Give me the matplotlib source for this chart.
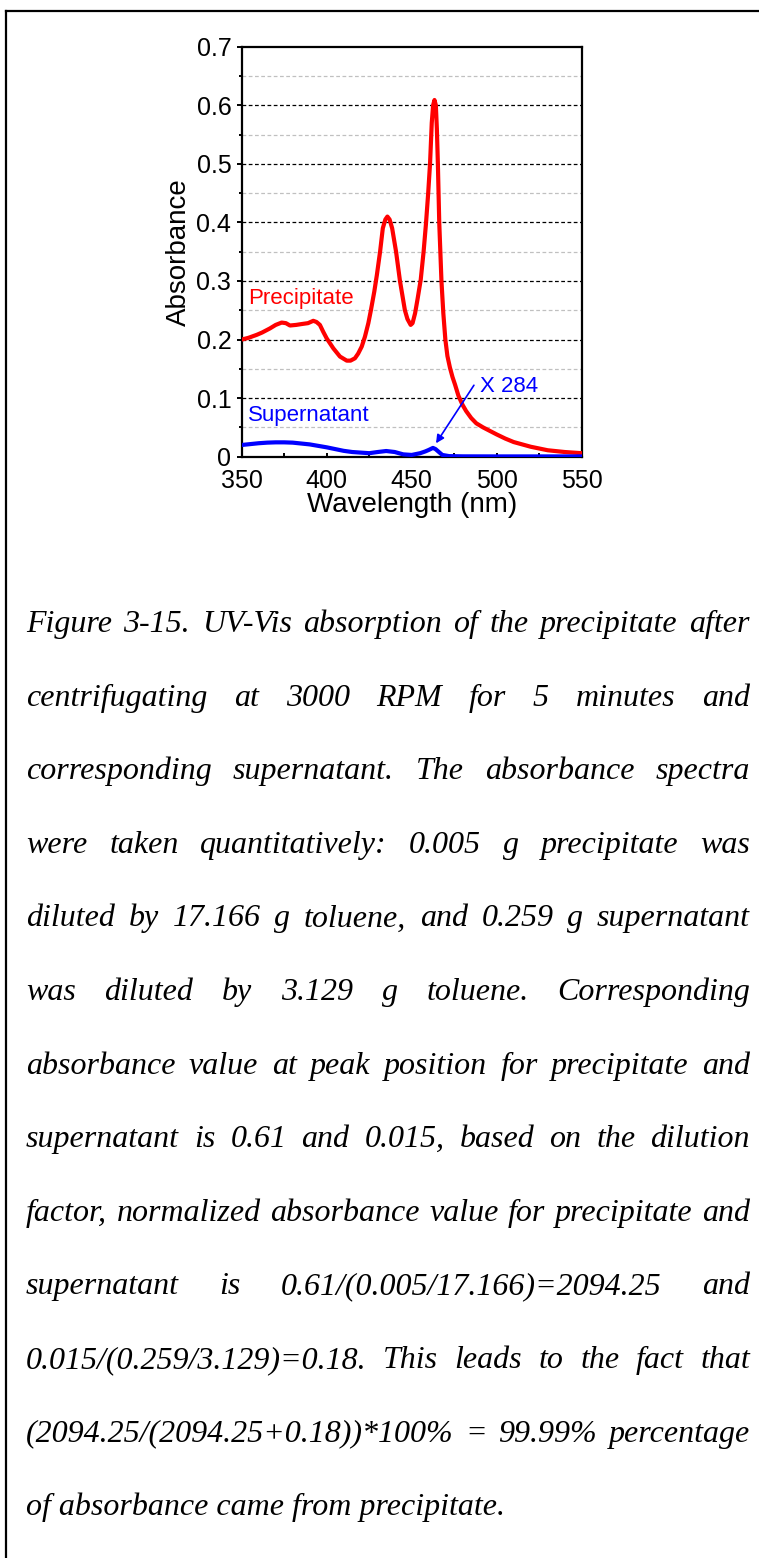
'''UV-Vis absorption of precipitate and supernatant, with figure caption'''
import numpy as np
import matplotlib
matplotlib.use('Agg')
import matplotlib.pyplot as plt
from matplotlib.lines import Line2D
from matplotlib.ticker import MultipleLocator
from matplotlib import rcParams
rcParams.update({'font.family': ['Liberation Sans', 'DejaVu Sans']})

# precipitate spectrum
wl_p = [350, 354, 358.8, 362, 366.6, 370, 373.5, 376, 378.4, 382, 385.3, 389, 392.1, 394,
        396, 398, 400, 403.9, 407.8, 411.8, 414, 416.6, 418.5, 420.6, 422.5, 424.5, 426,
        428, 429.5, 431.4, 433, 434.5, 435.7, 437, 438.5, 440.8, 443.1, 446, 447.5, 449.4,
        450.5, 452, 453.5, 455.3, 457, 458.4, 459.7, 460.8, 461.8, 462.6, 463.4, 464.2,
        464.8, 465.4, 466.2, 467.5, 468.6, 469.8, 471, 472.5, 474, 475.5, 477.5, 480, 482,
        485, 488, 492, 496, 500, 505, 510, 520, 530, 540, 550]
abs_p = [0.200, 0.203, 0.208, 0.212, 0.219, 0.225, 0.229, 0.228, 0.224, 0.225, 0.2265,
         0.228, 0.232, 0.230, 0.225, 0.213, 0.202, 0.185, 0.171, 0.164, 0.164, 0.168,
         0.176, 0.188, 0.205, 0.228, 0.250, 0.282, 0.310, 0.350, 0.390, 0.405, 0.410,
         0.405, 0.390, 0.350, 0.300, 0.250, 0.235, 0.225, 0.228, 0.245, 0.270, 0.302,
         0.350, 0.398, 0.450, 0.501, 0.570, 0.600, 0.609, 0.600, 0.560, 0.500, 0.400,
         0.300, 0.245, 0.200, 0.172, 0.152, 0.136, 0.123, 0.104, 0.088, 0.078, 0.066, 0.057,
         0.050, 0.044, 0.038, 0.031, 0.025, 0.017, 0.011, 0.008, 0.006]

# supernatant spectrum
wl_s = [350, 355, 360, 365, 370, 375, 380, 385, 390, 395, 400, 405, 410, 415, 420, 425,
        430, 435, 440, 445, 450, 455, 458, 460, 462.5, 464, 466, 468, 472, 480, 500, 520,
        550]
abs_s = [0.020, 0.0215, 0.023, 0.024, 0.0245, 0.0245, 0.024, 0.0225, 0.021, 0.0185,
         0.016, 0.013, 0.010, 0.008, 0.007, 0.006, 0.008, 0.0097, 0.008, 0.004, 0.003,
         0.006, 0.009, 0.0115, 0.015, 0.013, 0.008, 0.003, 0.001, 0.0006, 0.0005, 0.0005,
         0.0005]

caption = [
    'Figure 3-15. UV-Vis absorption of the precipitate after',
    'centrifugating at 3000 RPM for 5 minutes and',
    'corresponding supernatant. The absorbance spectra',
    'were taken quantitatively: 0.005 g precipitate was',
    'diluted by 17.166 g toluene, and 0.259 g supernatant',
    'was diluted by 3.129 g toluene. Corresponding',
    'absorbance value at peak position for precipitate and',
    'supernatant is 0.61 and 0.015, based on the dilution',
    'factor, normalized absorbance value for precipitate and',
    'supernatant is 0.61/(0.005/17.166)=2094.25 and',
    '0.015/(0.259/3.129)=0.18. This leads to the fact that',
    '(2094.25/(2094.25+0.18))*100% = 99.99% percentage',
    'of absorbance came from precipitate.',
]

W, H = 759, 1558
fig = plt.figure(figsize=(W / 100, H / 100), dpi=100)

# frame round the figure (only top and left visible)
fig.add_artist(Line2D([5.5 / W, 5.5 / W], [0, 1 - 10.5 / H], transform=fig.transFigure,
                      color='black', lw=1.6))
fig.add_artist(Line2D([5.5 / W, 1], [1 - 10.5 / H, 1 - 10.5 / H], transform=fig.transFigure,
                      color='black', lw=1.6))

ax = fig.add_axes([241.7 / W, 1 - 456.7 / H, 340 / W, 410 / H])
ax.plot(wl_p, abs_p, color='#ff0000', lw=3.0, solid_joinstyle='round',
        solid_capstyle='round', zorder=3)
ax.plot(wl_s, abs_s, color='#0000ff', lw=3.0, solid_joinstyle='round',
        solid_capstyle='round', zorder=3)

ax.set_xlim(350, 550)
ax.set_ylim(0, 0.7)
ax.xaxis.set_major_locator(MultipleLocator(50))
ax.xaxis.set_minor_locator(MultipleLocator(25))
ax.yaxis.set_minor_locator(MultipleLocator(0.05))
ax.set_yticks(np.arange(0, 0.71, 0.1))
ax.set_yticklabels(['0', '0.1', '0.2', '0.3', '0.4', '0.5', '0.6', '0.7'])

# grid lines, majors black, minors grey
for v in np.arange(0.1, 0.65, 0.1):
    ax.axhline(v, color='black', lw=0.9, ls=(0, (3, 2)), zorder=1)
for v in np.arange(0.05, 0.7, 0.1):
    ax.axhline(v, color='#c0c0c0', lw=0.9, ls=(0, (3, 2)), zorder=1)

ax.tick_params(axis='y', which='both', direction='out', labelsize=18, width=1.4, pad=4)
ax.tick_params(axis='y', which='major', length=3.5)
ax.tick_params(axis='y', which='minor', length=2.5)
ax.tick_params(axis='x', which='both', direction='in', labelsize=18, width=1.4, pad=9,
               length=3)
for s in ax.spines.values():
    s.set_linewidth(1.6)

ax.set_xlabel('Wavelength (nm)', fontsize=20, labelpad=-1)
ax.set_ylabel('Absorbance', fontsize=20, labelpad=3)

ax.text(353.5, 0.26, 'Precipitate', color='#ff0000', fontsize=16, va='baseline')
ax.text(353.5, 0.071, 'Supernatant', color='#0000ff', fontsize=16, va='center')
ax.text(490.2, 0.1207, 'X 284', color='#0000ff', fontsize=16, va='center')
ax.annotate('', xy=(464.3, 0.0229), xytext=(486.6, 0.122),
            arrowprops=dict(arrowstyle='-|>', color='#0000ff', lw=1.2,
                            mutation_scale=12, shrinkA=0, shrinkB=0))

# caption, justified between left and right margins
left, right = 26.0, 750.0
base0, step = 632.0, 73.6
cap_font = dict(family=['Liberation Serif', 'DejaVu Serif'], style='italic', color='black')
renderer = fig.canvas.get_renderer()


def width_px(s, fs):
    t = fig.text(0, 0, s, fontsize=fs, **cap_font)
    w = t.get_window_extent(renderer).width
    t.remove()
    return w


# pick a size so the last (free) line is as long as in the picture
fs = 20 * 478.0 / width_px(caption[-1], 20)
sp = width_px('a a', fs) - width_px('aa', fs)
widest = max(sum(width_px(w, fs) for w in l.split()) + sp * (len(l.split()) - 1)
             for l in caption[:-1])
if widest > right - left:
    fs *= (right - left) / widest

for i, line in enumerate(caption):
    y = 1 - (base0 + i * step) / H
    if i == len(caption) - 1:
        fig.text(left / W, y, line, fontsize=fs, va='baseline', ha='left', **cap_font)
        continue
    words = line.split()
    ws = [width_px(w, fs) for w in words]
    gap = (right - left - sum(ws)) / (len(words) - 1)
    x = left
    for w, wd in zip(words, ws):
        fig.text(x / W, y, w, fontsize=fs, va='baseline', ha='left', **cap_font)
        x += wd + gap

plt.savefig('out.png', dpi=100)
